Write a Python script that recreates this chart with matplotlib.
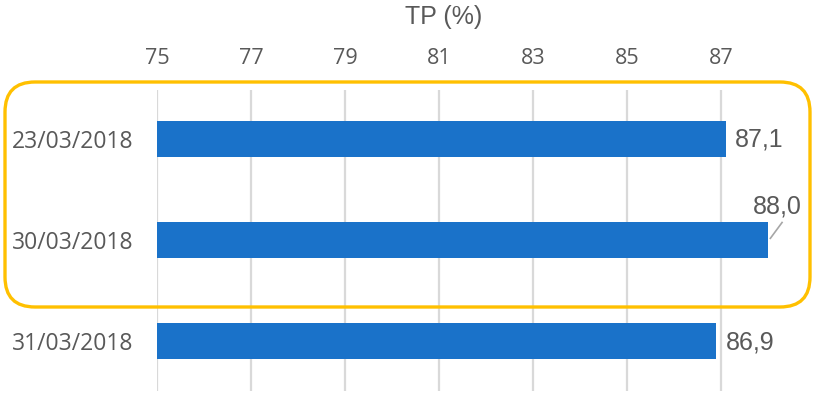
import matplotlib.pyplot as plt
from matplotlib.patches import FancyBboxPatch
from matplotlib.transforms import IdentityTransform

# dados
datas = ["23/03/2018", "30/03/2018", "31/03/2018"]
tp = [87.1, 88.0, 86.9]
rotulos = ["87,1", "88,0", "86,9"]
ticks = [75, 77, 79, 81, 83, 85, 87]

cinza = "#595959"
azul = "#1A72C9"

fig = plt.figure(figsize=(8.2, 3.98), dpi=100)
ax = fig.add_axes([157 / 820, 7 / 398, (815 - 157) / 820, 301 / 398])

y = range(len(datas))
ax.barh(y, [v - 75 for v in tp], left=75, height=0.356, color=azul, zorder=3)
ax.set_xlim(75, 89)
ax.set_ylim(2.495, -0.485)

ax.xaxis.tick_top()
ax.set_xticks(ticks)
ax.set_xticklabels([str(t) for t in ticks], family="Open Sans", fontsize=15.5, color=cinza)
ax.tick_params(axis="x", length=0, pad=15)
ax.set_yticks(list(y))
ax.set_yticklabels(datas, family="Open Sans", fontsize=16.5, color=cinza)
ax.tick_params(axis="y", length=0, pad=17)

ax.grid(axis="x", color="#D9D9D9", linewidth=1.6, zorder=0)
for s in ax.spines.values():
    s.set_visible(False)

# rótulos de valor
for i, (v, r) in enumerate(zip(tp, rotulos)):
    if i == 1:
        # rótulo deslocado com linha de chamada
        ax.plot([v + 0.04, v + 0.31], [i - 0.01, i - 0.18], color="#A6A6A6",
                lw=1.2, zorder=4, solid_capstyle="butt")
        ax.text(v + 0.2, i - 0.33, r, ha="center", va="center",
                family="Liberation Sans", fontsize=18, color=cinza)
    else:
        ax.text(v + 0.2, i + 0.01, r, ha="left", va="center",
                family="Liberation Sans", fontsize=18, color=cinza)

fig.text(444 / 820, 1 - 17 / 398, "TP (%)", ha="center", va="center",
         family="Liberation Sans", fontsize=18, color=cinza)

# destaque laranja
caixa = FancyBboxPatch((5, 91), 805, 225, boxstyle="round,pad=0,rounding_size=30",
                       transform=IdentityTransform(), fill=False,
                       edgecolor="#FFC000", linewidth=2.4, zorder=5)
fig.patches.append(caixa)

plt.savefig("out.png", dpi=100)
